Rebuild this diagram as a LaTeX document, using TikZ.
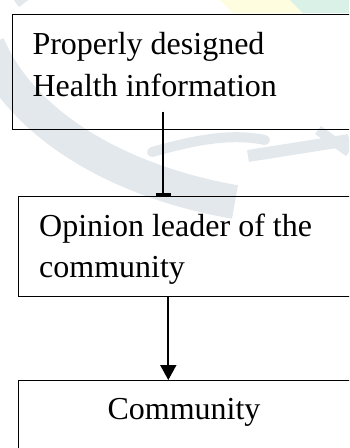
\documentclass[tikz,border=0pt]{standalone}
\usepackage{fontspec}
\setmainfont{Liberation Serif}
\usetikzlibrary{arrows.meta}
\definecolor{wm}{RGB}{226,232,236}
\definecolor{wmyellow}{RGB}{255,253,224}
\definecolor{wmmint}{RGB}{218,241,231}
\tikzset{
  box/.style={draw=black, line width=1.3pt, inner sep=0pt, anchor=north west},
  label/.style={inner sep=0pt, font=\fontsize{32}{42}\selectfont},
  link/.style={draw=black, line width=1.7pt},
}
\begin{document}
\begin{tikzpicture}[x=1pt,y=-1pt]
\useasboundingbox (0,0) rectangle (349,448);
\clip (0,0) rectangle (349,448);
% faint watermark
\fill[wmyellow] (220,0) -- (290,0) -- (303,13) -- (233,13) -- cycle;
\fill[wmmint] (290,0) -- (349,0) -- (349,13) -- (303,13) -- cycle;
\draw[wm, line width=34pt] (-12,45) .. controls (20,120) and (110,180) .. (235,202);
\draw[wm, line width=30pt] (10,-5) -- (30,-20);
\draw[wm, line width=10pt, line cap=round] (152,152) .. controls (195,140) and (230,133) .. (265,140);
\draw[wm, line width=12pt] (248,156) -- (349,140);
\draw[wm, line width=10pt] (318,130) -- (349,152);
% boxes
\node[box, minimum width=360pt, minimum height=115pt] (top) at (12,14) {};
\node[box, minimum width=360pt, minimum height=100pt] (mid) at (17.7,195.7) {};
\node[box, minimum width=360pt, minimum height=100pt] (bot) at (17.7,380) {};
% texts
\node[label, anchor=base west] (t1) at (32.3,54) {Properly designed};
\node[label, anchor=base west] (t2) at (32.3,96) {Health information};
\node[label, anchor=base west] (m1) at (39,236) {Opinion leader of the};
\node[label, anchor=base west] (m2) at (39,277) {community};
\node[label, anchor=base] (b1) at (184,419) {Community};
% connectors
\coordinate (c1) at (163.3,111.7);
\coordinate (c2) at (168.3,0);
\draw[link, -{Bar[width=15pt, line width=2.4pt]}] (c1) -- (c1 |- mid.north);
\draw[link, -{Triangle[length=15pt, width=16pt]}] (c2 |- mid.south) -- (c2 |- bot.north);
\end{tikzpicture}
\end{document}
